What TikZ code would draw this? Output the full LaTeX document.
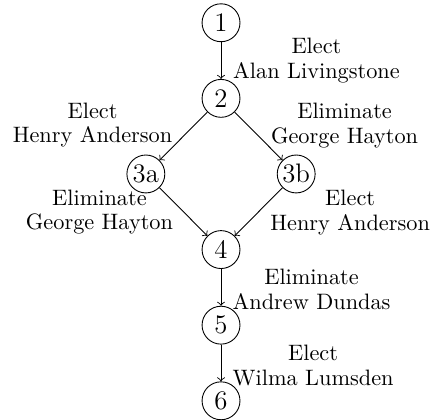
\documentclass[tikz,border=0pt]{standalone}
\usetikzlibrary{arrows}
\begin{document}
\begin{tikzpicture}[x=1pt, y=-1pt,
  state/.style={draw, circle, inner sep=0pt, minimum size=17pt, font=\large},
  lbl/.style={align=center, inner sep=0pt, font=\fontsize{10}{11}\selectfont},
  edgearrow/.style={->, line width=0.4pt}]
\useasboundingbox (0,0) rectangle (192.8,187.9);
\node[state] (n1) at (99.1, 10.2) {1};
\node[state] (n2) at (99.1, 44.1) {2};
\node[state] (n3a) at (65.4, 78.0) {3a};
\node[state] (n3b) at (132.8, 78.0) {3b};
\node[state] (n4) at (99.1, 111.9) {4};
\node[state] (n5) at (99.1, 145.8) {5};
\node[state] (n6) at (99.1, 179.7) {6};
\draw[edgearrow] (n1) -- (n2);
\draw[edgearrow] (n2) -- (n3a);
\draw[edgearrow] (n2) -- (n3b);
\draw[edgearrow] (n3a) -- (n4);
\draw[edgearrow] (n3b) -- (n4);
\draw[edgearrow] (n4) -- (n5);
\draw[edgearrow] (n5) -- (n6);
\node[lbl] (la) at (141.9, 27.1) {Elect\\Alan Livingstone};
\node[lbl] (lb) at (41.5, 56.1) {Elect\\Henry Anderson};
\node[lbl] (lc) at (154.5, 56.3) {Eliminate\\George Hayton};
\node[lbl] (ld) at (44.6, 95.1) {Eliminate\\George Hayton};
\node[lbl] (le) at (157.0, 95.3) {Elect\\Henry Anderson};
\node[lbl] (lf) at (139.7, 129.8) {Eliminate\\Andrew Dundas};
\node[lbl] (lg) at (140.4, 163.9) {Elect\\Wilma Lumsden};
\end{tikzpicture}
\end{document}
